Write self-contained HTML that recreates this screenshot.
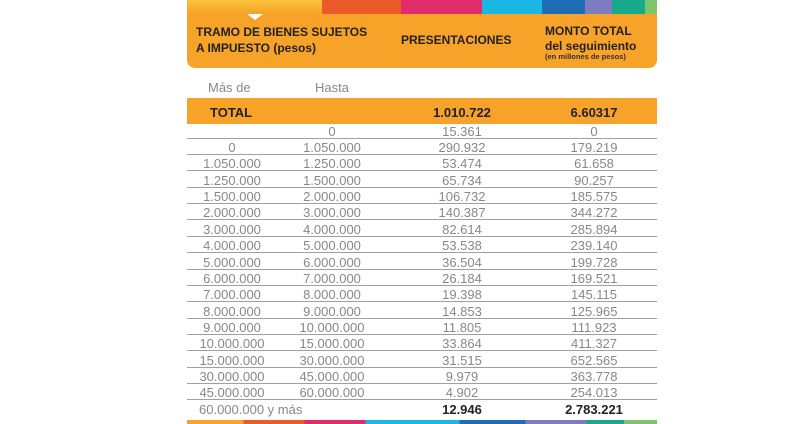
<!DOCTYPE html>
<html><head><meta charset="utf-8"><style>
body{margin:0;width:800px;height:424px;background:#fff;position:relative;overflow:hidden;font-family:"Liberation Sans",sans-serif}
.a{position:absolute}
.r{position:absolute;left:187px;width:470px;height:16px;font-size:13px;color:#888;border-bottom:1px solid #a0a0a0;box-sizing:border-box}
.r span{position:absolute;top:1px;line-height:15px;text-align:center;white-space:nowrap}
.c1{left:0;width:90px}.c2{left:100px;width:90px}.c3{left:225px;width:100px}.c4{left:357px;width:100px}
.h{font-weight:bold;color:#222;font-size:13px}
.hh{font-weight:bold;color:#222;font-size:12px}
</style></head><body>
<div class="a" style="left:187px;top:0;width:470px;height:68px;background:#f7a229;border-radius:0 0 8px 8px;overflow:hidden">
<div class="a" style="left:0;top:0;width:135px;height:14px;background:linear-gradient(#f9c33a,#f7a229)"></div>
<div class="a" style="left:135px;top:0;width:79px;height:14px;background:#ec5a2a"></div>
<div class="a" style="left:214px;top:0;width:81px;height:14px;background:#e22b6a"></div>
<div class="a" style="left:295px;top:0;width:60px;height:14px;background:#1ab7e5"></div>
<div class="a" style="left:355px;top:0;width:43px;height:14px;background:#1f6db5"></div>
<div class="a" style="left:398px;top:0;width:27px;height:14px;background:#7d7cc0"></div>
<div class="a" style="left:425px;top:0;width:33px;height:14px;background:#16a98c"></div>
<div class="a" style="left:458px;top:0;width:12px;height:14px;background:#7cc56b"></div>
<div class="a" style="left:60px;top:14px;width:0;height:0;border-left:8px solid transparent;border-right:8px solid transparent;border-top:6px solid #fff"></div>
<div class="a hh" style="left:9px;top:24px;line-height:16px">TRAMO DE BIENES SUJETOS<br>A IMPUESTO (pesos)</div>
<div class="a hh" style="left:214px;top:33px">PRESENTACIONES</div>
<div class="a hh" style="left:358px;top:24px;line-height:15px">MONTO TOTAL<br>del seguimiento</div>
<div class="a" style="left:358px;top:52px;font-size:7.5px;font-weight:bold;color:#333">(en millones de pesos)</div>
</div>
<div class="a" style="left:208px;top:80px;font-size:13px;color:#888">Más de</div>
<div class="a" style="left:315px;top:80px;font-size:13px;color:#888">Hasta</div>
<div class="a" style="left:187px;top:98px;width:470px;height:26px;background:#f7a229"></div>
<div class="a h" style="left:210px;top:105px">TOTAL</div>
<div class="a h" style="left:412px;top:105px;width:100px;text-align:center">1.010.722</div>
<div class="a h" style="left:544px;top:105px;width:100px;text-align:center">6.60317</div>
<div class="r" style="top:123px"><span class="c1"></span><span class="c2">0</span><span class="c3">15.361</span><span class="c4">0</span></div>
<div class="r" style="top:139px"><span class="c1">0</span><span class="c2">1.050.000</span><span class="c3">290.932</span><span class="c4">179.219</span></div>
<div class="r" style="top:155.4px"><span class="c1">1.050.000</span><span class="c2">1.250.000</span><span class="c3">53.474</span><span class="c4">61.658</span></div>
<div class="r" style="top:171.7px"><span class="c1">1.250.000</span><span class="c2">1.500.000</span><span class="c3">65.734</span><span class="c4">90.257</span></div>
<div class="r" style="top:188px"><span class="c1">1.500.000</span><span class="c2">2.000.000</span><span class="c3">106.732</span><span class="c4">185.575</span></div>
<div class="r" style="top:204.4px"><span class="c1">2.000.000</span><span class="c2">3.000.000</span><span class="c3">140.387</span><span class="c4">344.272</span></div>
<div class="r" style="top:220.8px"><span class="c1">3.000.000</span><span class="c2">4.000.000</span><span class="c3">82.614</span><span class="c4">285.894</span></div>
<div class="r" style="top:237.1px"><span class="c1">4.000.000</span><span class="c2">5.000.000</span><span class="c3">53.538</span><span class="c4">239.140</span></div>
<div class="r" style="top:253.5px"><span class="c1">5.000.000</span><span class="c2">6.000.000</span><span class="c3">36.504</span><span class="c4">199.728</span></div>
<div class="r" style="top:269.8px"><span class="c1">6.000.000</span><span class="c2">7.000.000</span><span class="c3">26.184</span><span class="c4">169.521</span></div>
<div class="r" style="top:286.2px"><span class="c1">7.000.000</span><span class="c2">8.000.000</span><span class="c3">19.398</span><span class="c4">145.115</span></div>
<div class="r" style="top:302.5px"><span class="c1">8.000.000</span><span class="c2">9.000.000</span><span class="c3">14.853</span><span class="c4">125.965</span></div>
<div class="r" style="top:318.9px"><span class="c1">9.000.000</span><span class="c2">10.000.000</span><span class="c3">11.805</span><span class="c4">111.923</span></div>
<div class="r" style="top:335.2px"><span class="c1">10.000.000</span><span class="c2">15.000.000</span><span class="c3">33.864</span><span class="c4">411.327</span></div>
<div class="r" style="top:351.6px"><span class="c1">15.000.000</span><span class="c2">30.000.000</span><span class="c3">31.515</span><span class="c4">652.565</span></div>
<div class="r" style="top:367.9px"><span class="c1">30.000.000</span><span class="c2">45.000.000</span><span class="c3">9.979</span><span class="c4">363.778</span></div>
<div class="r" style="top:384.3px"><span class="c1">45.000.000</span><span class="c2">60.000.000</span><span class="c3">4.902</span><span class="c4">254.013</span></div>
<div class="r" style="top:401px;border:none"><span class="c1" style="width:auto;left:12px">60.000.000 y más</span><span class="c3 h">12.946</span><span class="c4 h">2.783.221</span></div>
<div class="a" style="left:187px;top:420px;width:470px;height:4px;background:linear-gradient(90deg,#f7a229 0,#f7a229 12%,#ec5a2a 12%,#ec5a2a 25%,#e22b6a 25%,#e22b6a 38%,#1ab7e5 38%,#1ab7e5 58%,#1f6db5 58%,#1f6db5 72%,#7d7cc0 72%,#7d7cc0 85%,#16a98c 85%,#16a98c 93%,#7cc56b 93%)"></div>
</body></html>
